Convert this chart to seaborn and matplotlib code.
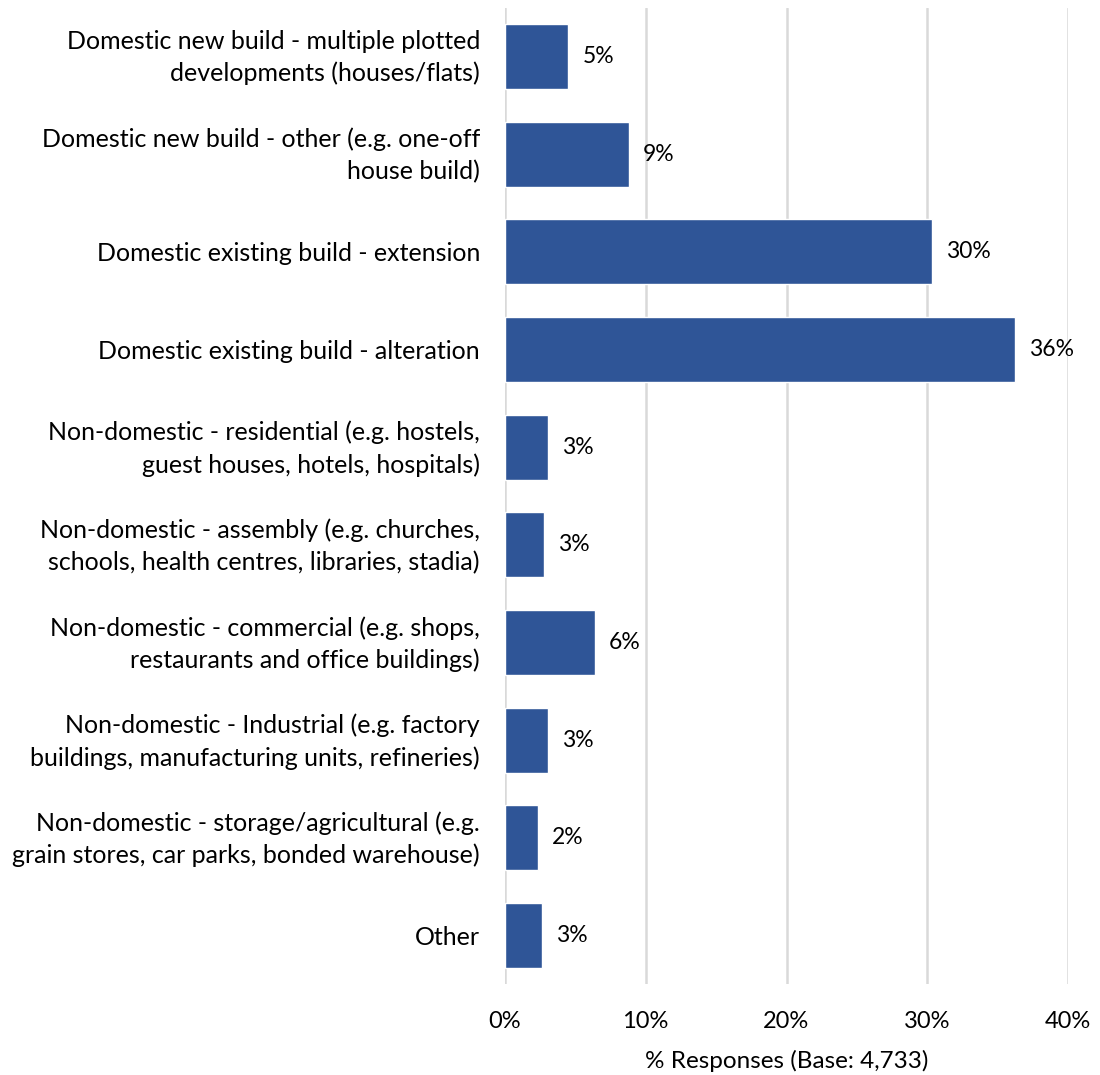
import pandas as pd
import numpy as np
import matplotlib
matplotlib.use("Agg")
import matplotlib.pyplot as plt
import matplotlib.transforms as mtransforms
import seaborn as sns

# Categories (multi-line labels as in the survey chart)
categories = [
    "Domestic new build - multiple plotted\ndevelopments (houses/flats)",
    "Domestic new build - other (e.g. one-off\nhouse build)",
    "Domestic existing build - extension",
    "Domestic existing build - alteration",
    "Non-domestic - residential (e.g. hostels,\nguest houses, hotels, hospitals)",
    "Non-domestic - assembly (e.g. churches,\nschools, health centres, libraries, stadia)",
    "Non-domestic - commercial (e.g. shops,\nrestaurants and office buildings)",
    "Non-domestic - Industrial (e.g. factory\nbuildings, manufacturing units, refineries)",
    "Non-domestic - storage/agricultural (e.g.\ngrain stores, car parks, bonded warehouse)",
    "Other",
]
# % responses
values = [4.5, 8.8, 30.3, 36.2, 3.05, 2.75, 6.4, 3.05, 2.35, 2.6]
# labels printed next to bars
value_labels = ["5%", "9%", "30%", "36%", "3%", "3%", "6%", "3%", "2%", "3%"]
x_ticks = [0, 10, 20, 30, 40]
x_label = "% Responses (Base: 4,733)"

df = pd.DataFrame({"category": categories, "value": values})

sns.set_style("white")
plt.rcParams["font.family"] = ["Lato", "DejaVu Sans"]

fig = plt.figure(figsize=(11, 10.75), dpi=100)
ax = fig.add_axes([0.459, 0.0842, 0.512, 0.9088])

sns.barplot(data=df, x="value", y="category", orient="h", color="#2F5597",
            width=0.665, saturation=1, ax=ax, zorder=3)

ax.set_xlim(0, 40)
ax.set_xticks(x_ticks)
ax.set_xticklabels([f"{t}%" for t in x_ticks], fontsize=17, color="black")
ax.tick_params(axis="x", length=0, pad=19)
ax.tick_params(axis="y", length=0, pad=18)
# two-line labels sit a little low in matplotlib, nudge them up
shift_up = mtransforms.ScaledTranslation(0, 5 / 100, fig.dpi_scale_trans)
for lbl in ax.get_yticklabels():
    lbl.set_fontsize(18)
    lbl.set_color("black")
    lbl.set_linespacing(1.45)
    lbl.set_horizontalalignment("right")
    if "\n" in lbl.get_text():
        lbl.set_transform(lbl.get_transform() + shift_up)
ax.set_ylabel("")
ax.set_xlabel(x_label, fontsize=17.5, labelpad=13, color="black")

ax.grid(axis="x", color="#D9D9D9", linewidth=1.8, zorder=0)
ax.grid(axis="y", visible=False)
for s in ax.spines.values():
    s.set_visible(False)

for i, (v, t) in enumerate(zip(values, value_labels)):
    ax.text(v + 1.0, i, t, va="center", ha="left", fontsize=16.5, color="black")

fig.savefig("out.png", dpi=100)
